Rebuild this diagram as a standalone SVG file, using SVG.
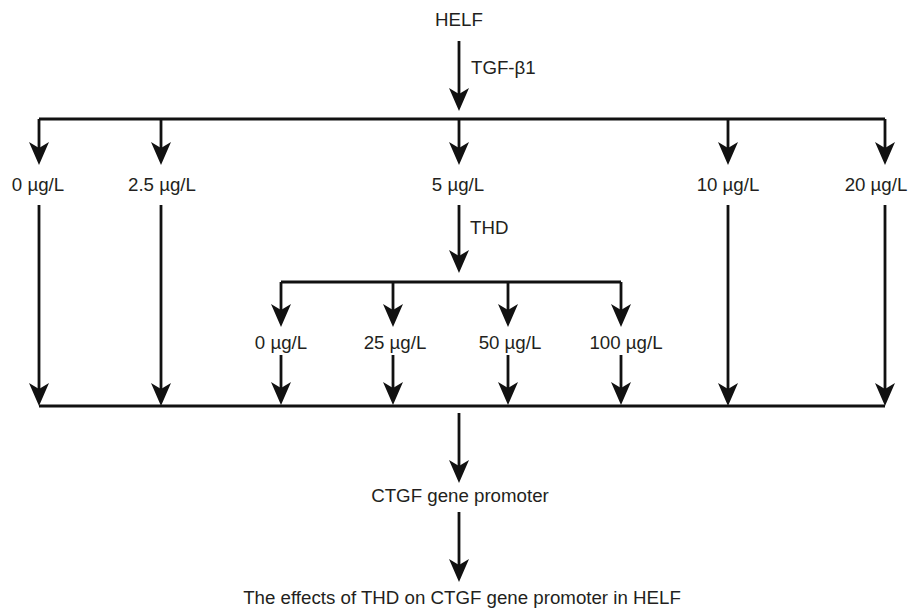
<svg xmlns="http://www.w3.org/2000/svg" width="909" height="608" viewBox="0 0 909 608">
<defs>
<marker id="ah" viewBox="0 0 23 20" markerWidth="23" markerHeight="20" refX="6" refY="10" markerUnits="userSpaceOnUse" orient="auto">
<path d="M0,0 L23,10 L0,20 L6,10 z" fill="#111"/>
</marker>
<style>
.t{font-family:"Liberation Sans",Arial,sans-serif;font-size:18.7px;fill:#231f20;}
.c{text-anchor:middle;}
.l{fill:none;stroke:#111;stroke-width:2.8;stroke-linejoin:miter;}
.a{marker-end:url(#ah);}
</style>
</defs>
<rect width="909" height="608" fill="#fff"/>
<g id="connectors">
<path class="l a" d="M459,41 V94"/>
<path class="l" d="M39,119 H885"/>
<path class="l a" d="M39,119 V148"/>
<path class="l a" d="M161,119 V148"/>
<path class="l a" d="M459,119 V148"/>
<path class="l a" d="M728,119 V148"/>
<path class="l a" d="M885,119 V148"/>
<path class="l a" d="M39,205 V389"/>
<path class="l a" d="M161,205 V389"/>
<path class="l a" d="M728,205 V389"/>
<path class="l a" d="M885,205 V389"/>
<path class="l a" d="M459,205 V256"/>
<path class="l" d="M281,282 H621"/>
<path class="l a" d="M281,282 V310"/>
<path class="l a" d="M393,282 V310"/>
<path class="l a" d="M508,282 V310"/>
<path class="l a" d="M621,282 V310"/>
<path class="l a" d="M281,355 V388"/>
<path class="l a" d="M393,355 V388"/>
<path class="l a" d="M508,355 V388"/>
<path class="l a" d="M621,355 V388"/>
<path class="l" d="M39,406 H885"/>
<path class="l a" d="M459,413 V466"/>
<path class="l a" d="M459,512 V565"/>
</g>
<g id="helf"><text class="t c" x="459" y="26">HELF</text></g>
<g id="tgf"><text class="t" x="471" y="74">TGF-β1</text></g>
<g id="d0"><text class="t c" x="38" y="191">0 µg/L</text></g>
<g id="d25"><text class="t c" x="162" y="191">2.5 µg/L</text></g>
<g id="d5"><text class="t c" x="458" y="191">5 µg/L</text></g>
<g id="d10"><text class="t c" x="728" y="191">10 µg/L</text></g>
<g id="d20"><text class="t c" x="876" y="191">20 µg/L</text></g>
<g id="thd"><text class="t" x="470" y="234">THD</text></g>
<g id="t0"><text class="t c" x="281" y="349">0 µg/L</text></g>
<g id="t25"><text class="t c" x="395" y="349">25 µg/L</text></g>
<g id="t50"><text class="t c" x="510" y="349">50 µg/L</text></g>
<g id="t100"><text class="t c" x="626" y="349">100 µg/L</text></g>
<g id="ctgf"><text class="t c" x="460" y="502">CTGF gene promoter</text></g>
<g id="effects"><text class="t c" x="462" y="604">The effects of THD on CTGF gene promoter in HELF</text></g>
</svg>
